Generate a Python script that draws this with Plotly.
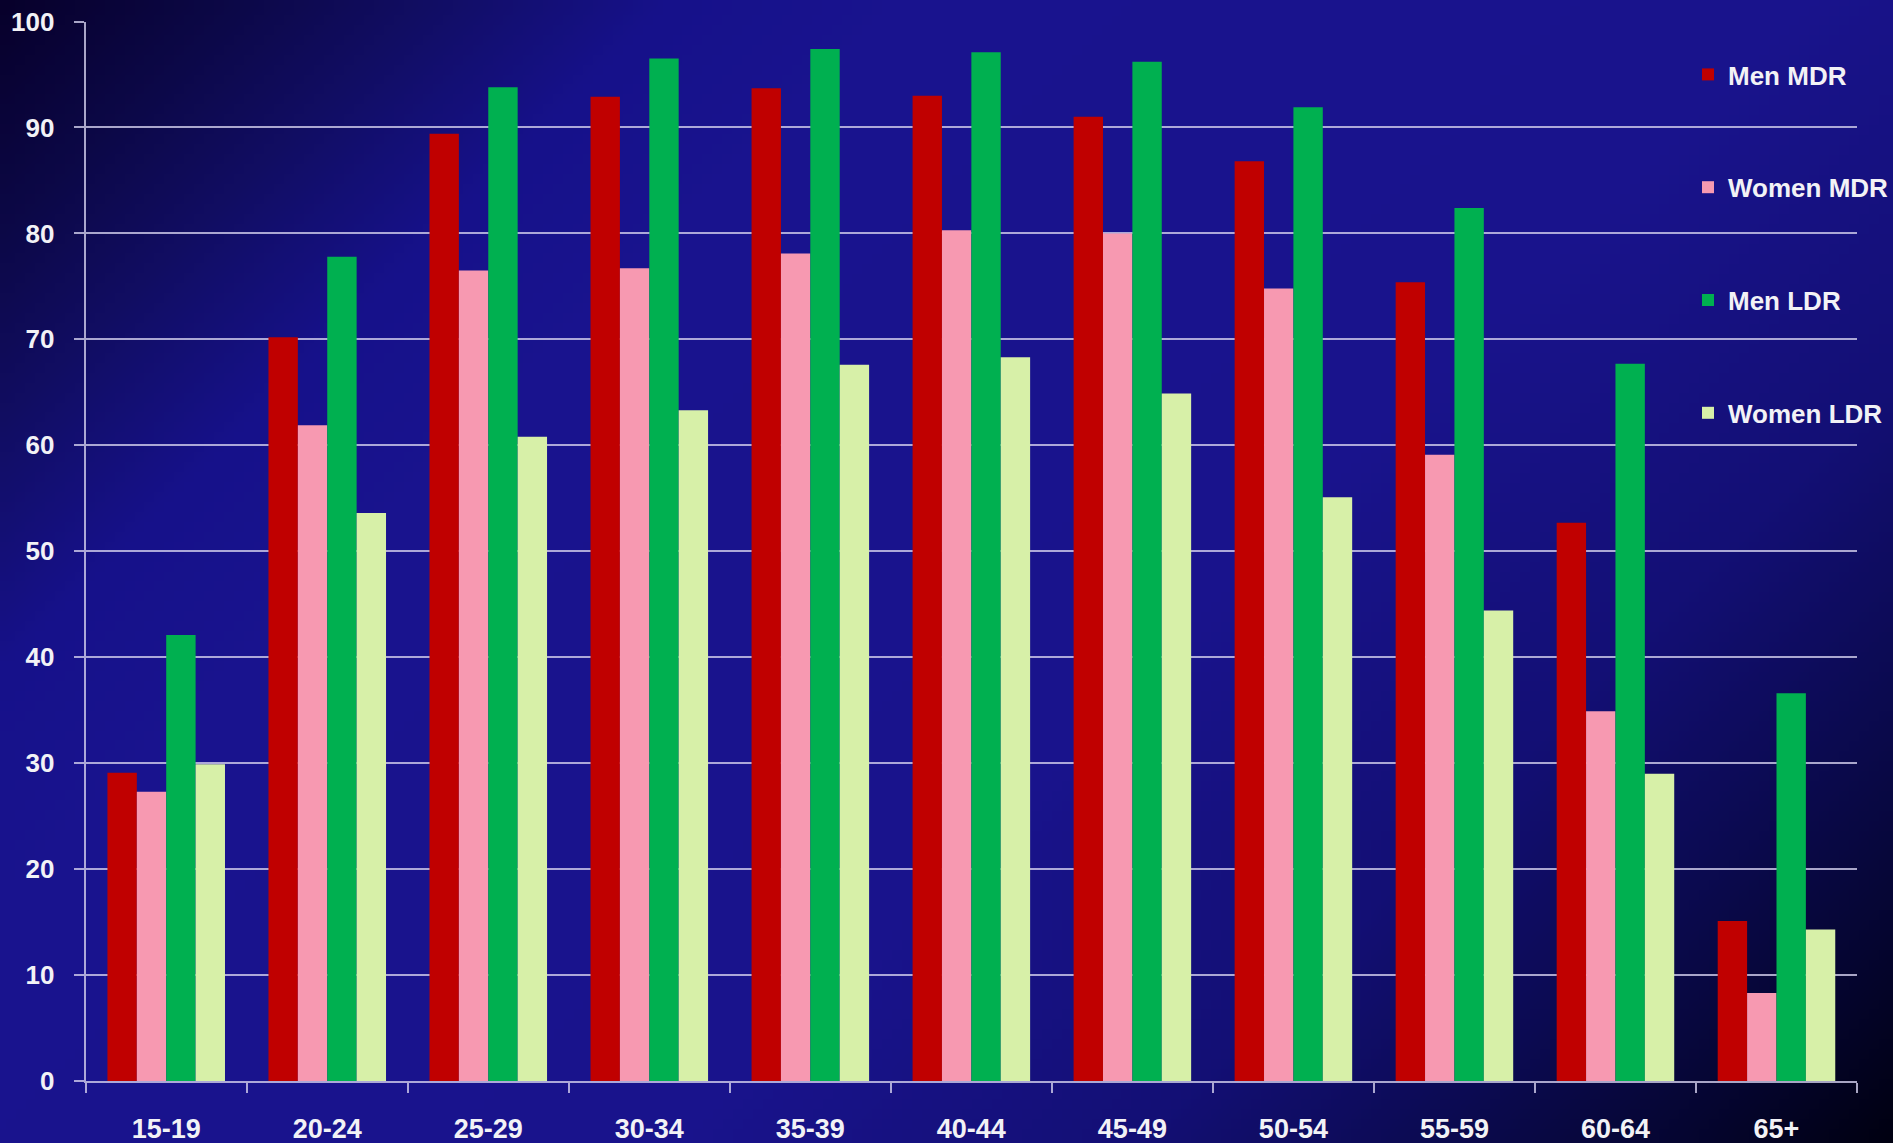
import base64
import struct
import zlib

import plotly.graph_objects as go

# ---------------- data ----------------
age_groups = ["15-19", "20-24", "25-29", "30-34", "35-39", "40-44",
              "45-49", "50-54", "55-59", "60-64", "65+"]
men_mdr = [29.1, 70.2, 89.4, 92.9, 93.7, 93.0, 91.0, 86.8, 75.4, 52.7, 15.1]
women_mdr = [27.3, 61.9, 76.5, 76.7, 78.1, 80.3, 80.0, 74.8, 59.1, 34.9, 8.3]
men_ldr = [42.1, 77.8, 93.8, 96.5, 97.4, 97.1, 96.2, 91.9, 82.4, 67.7, 36.6]
women_ldr = [29.9, 53.6, 60.8, 63.3, 67.6, 68.3, 64.9, 55.1, 44.4, 29.0, 14.3]
series_names = ["Men MDR", "Women MDR", "Men LDR", "Women LDR"]
y_ticks = list(range(0, 101, 10))

# ---------------- style ----------------
W, H = 1893, 1143
colors = ["#c00000", "#f799b1", "#00b050", "#d7f0a8"]
FONT = "Liberation Sans, Arial, sans-serif"
TXT = "#f2f2f6"
GRID = "rgba(210,206,236,0.80)"

# diagonal background gradient (styling only)
grad_stops = [
    (0.00, (7, 0, 42)), (0.08, (12, 8, 72)), (0.14, (17, 13, 98)),
    (0.22, (22, 17, 138)), (0.30, (25, 19, 142)), (0.60, (25, 19, 140)),
    (0.75, (19, 15, 117)), (0.85, (11, 10, 80)), (0.93, (5, 5, 48)),
    (1.00, (0, 0, 16)),
]


def grad_color(t):
    for (t0, c0), (t1, c1) in zip(grad_stops[:-1], grad_stops[1:]):
        if t <= t1:
            f = (t - t0) / (t1 - t0) if t1 > t0 else 0
            return [int(round(a + (b - a) * f)) for a, b in zip(c0, c1)]
    return list(grad_stops[-1][1])


def gradient_png(pw, ph):
    rows = []
    for j in range(ph):
        row = bytearray([0])
        for i in range(pw):
            t = ((i + 0.5) / pw * W + (j + 0.5) / ph * H) / (W + H)
            row.extend(grad_color(t))
        rows.append(bytes(row))
    raw = b"".join(rows)

    def chunk(tag, data):
        return (struct.pack(">I", len(data)) + tag + data +
                struct.pack(">I", zlib.crc32(tag + data) & 0xFFFFFFFF))

    png = (b"\x89PNG\r\n\x1a\n" +
           chunk(b"IHDR", struct.pack(">IIBBBBB", pw, ph, 8, 2, 0, 0, 0)) +
           chunk(b"IDAT", zlib.compress(raw, 9)) + chunk(b"IEND", b""))
    return "data:image/png;base64," + base64.b64encode(png).decode()


bg_uri = gradient_png(190, 115)

# ---------------- figure ----------------
fig = go.Figure()
for name, vals, col in zip(series_names, [men_mdr, women_mdr, men_ldr, women_ldr], colors):
    fig.add_trace(go.Bar(
        x=age_groups, y=vals, name=name, legendgroup=name,
        marker=dict(color=col, line=dict(width=0)),
    ))

x0, x1 = 85.7, 1857.0
y0, y1 = 1081.0, 21.5

fig.update_layout(
    width=W, height=H,
    margin=dict(l=0, r=0, t=0, b=0, autoexpand=False),
    paper_bgcolor="#1a1490",
    plot_bgcolor="rgba(0,0,0,0)",
    barmode="group", bargap=0.27, bargroupgap=0,
    font=dict(family=FONT, color=TXT, size=26, weight="bold"),
    images=[dict(source=bg_uri, xref="paper", yref="paper", x=0, y=1,
                 sizex=1, sizey=1, xanchor="left", yanchor="top",
                 sizing="stretch", layer="below")],
    legend=dict(
        x=1688 / W, y=1 - 51 / H, xanchor="left", yanchor="top",
        bgcolor="rgba(0,0,0,0)", borderwidth=0,
        font=dict(family=FONT, color=TXT, size=26, weight="bold"),
        tracegroupgap=76, itemclick=False,
    ),
    showlegend=True,
)

fig.update_xaxes(
    domain=[x0 / W, x1 / W], automargin=False,
    type="category", categoryorder="array", categoryarray=age_groups,
    tickson="boundaries", ticks="outside", ticklen=10, tickwidth=2,
    tickcolor=GRID, showline=True, linecolor=GRID, linewidth=2,
    showgrid=False, ticklabelstandoff=23,
    tickfont=dict(family=FONT, color=TXT, size=27, weight="bold"),
    fixedrange=True,
)
fig.update_yaxes(
    domain=[1 - y0 / H, 1 - y1 / H], automargin=False,
    range=[0, 100], tickvals=y_ticks, ticktext=[str(v) for v in y_ticks],
    ticks="outside", ticklen=10, tickwidth=2, tickcolor=GRID,
    showline=True, linecolor=GRID, linewidth=2,
    showgrid=True, gridcolor=GRID, gridwidth=2, zeroline=False,
    ticklabelstandoff=14,
    tickfont=dict(family=FONT, color=TXT, size=26, weight="bold"),
    fixedrange=True,
)

fig.write_html("out.html", config={"displayModeBar": False},
               post_script="document.body.style.margin='0';")
